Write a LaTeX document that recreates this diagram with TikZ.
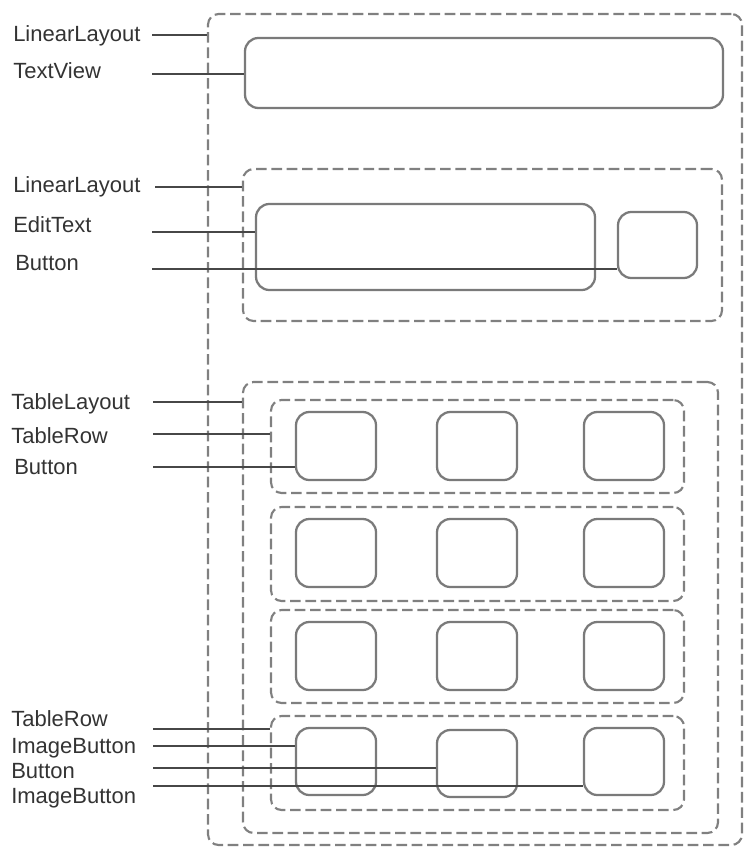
\documentclass[tikz,border=0pt]{standalone}
\usepackage{fontspec}
\setmainfont{Liberation Sans}
\usetikzlibrary{positioning,fit}

\begin{document}
\begin{tikzpicture}[
    x=0.75pt, y=-0.75pt,
    layout/.style={draw=black!50, line width=1.6pt, dash pattern=on 8pt off 3.5pt, rounded corners=8pt, inner sep=0pt},
    widget/.style={draw=black!52, line width=1.7pt, rounded corners=10pt, inner sep=0pt},
    viewname/.style={anchor=base west, inner sep=0pt, font=\fontsize{16.5}{19}\selectfont, text=black!80},
    link/.style={draw=black!72, line width=2pt}
]
\useasboundingbox (0,0) rectangle (745,848);

% Layout containers
\node[layout, fit={(208,14) (742,845)}] (root) {};
\node[layout, fit={(243,169) (722,321)}] (inputrow) {};
\node[layout, fit={(243,382) (718,833)}] (table) {};
\node[layout, fit={(271,400) (684,493)}] (rowA) {};
\node[layout, fit={(271,507) (684,601)}] (rowB) {};
\node[layout, fit={(271,610) (684,703)}] (rowC) {};
\node[layout, fit={(271,716) (684,810)}] (rowD) {};

% Widgets
\node[widget, fit={(245,38) (723,108)}] (textview) {};
\node[widget, fit={(256,204) (595,290)}] (edittext) {};
\node[widget, fit={(618,212) (697,278)}] (sendbtn) {};

\node[widget, fit={(296,412) (376,480)}] (a1) {};
\node[widget, fit={(437,412) (517,480)}] (a2) {};
\node[widget, fit={(584,412) (664,480)}] (a3) {};
\node[widget, fit={(296,519) (376,587)}] (b1) {};
\node[widget, fit={(437,519) (517,587)}] (b2) {};
\node[widget, fit={(584,519) (664,587)}] (b3) {};
\node[widget, fit={(296,622) (376,690)}] (c1) {};
\node[widget, fit={(437,622) (517,690)}] (c2) {};
\node[widget, fit={(584,622) (664,690)}] (c3) {};
\node[widget, fit={(296,728) (376,795)}] (d1) {};
\node[widget, fit={(437,730) (517,797)}] (d2) {};
\node[widget, fit={(584,728) (664,795)}] (d3) {};

% Labels
\node[viewname] (lRoot) at (13,42) {LinearLayout};
\node[viewname] (lText) at (13,79) {TextView};
\node[viewname] (lInput) at (13,193) {LinearLayout};
\node[viewname] (lEdit) at (13,233) {EditText};
\node[viewname] (lSend) at (15,271) {Button};
\node[viewname] (lTable) at (11,409) {TableLayout};
\node[viewname] (lRowA) at (11,443) {TableRow};
\node[viewname] (lBtnA) at (14,474) {Button};
\node[viewname] (lRowD) at (11,726) {TableRow};
\node[viewname] (lImgA) at (11,753) {ImageButton};
\node[viewname] (lBtnD) at (11,778) {Button};
\node[viewname] (lImgB) at (11,803) {ImageButton};

% Connectors
\coordinate (sRoot) at (152,35);
\coordinate (sText) at (152,74);
\coordinate (sInput) at (155,187);
\coordinate (sEdit) at (152,232);
\coordinate (sSend) at (152,269);
\coordinate (sTable) at (153,402);
\coordinate (sRowA) at (153,434);
\coordinate (sBtnA) at (153,467);
\coordinate (sRowD) at (153,729);
\coordinate (sImgA) at (153,746);
\coordinate (sBtnD) at (153,768);
\coordinate (sImgB) at (153,786);

\draw[link] (sRoot) -- (sRoot -| root.west);
\draw[link] (sText) -- (sText -| textview.west);
\draw[link] (sInput) -- (sInput -| inputrow.west);
\draw[link] (sEdit) -- (sEdit -| edittext.west);
\draw[link] (sSend) -- (sSend -| sendbtn.west);
\draw[link] (sTable) -- (sTable -| table.west);
\draw[link] (sRowA) -- (sRowA -| rowA.west);
\draw[link] (sBtnA) -- (sBtnA -| a1.west);
\draw[link] (sRowD) -- (sRowD -| rowD.west);
\draw[link] (sImgA) -- (sImgA -| d1.west);
\draw[link] (sBtnD) -- (sBtnD -| d2.west);
\draw[link] (sImgB) -- (sImgB -| d3.west);

\end{tikzpicture}
\end{document}
